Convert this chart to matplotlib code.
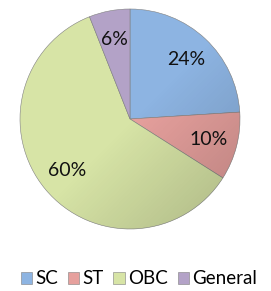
import matplotlib.pyplot as plt
import numpy as np

# pie data, clockwise from 12 o'clock
categories = ["SC", "ST", "OBC", "General"]
shares = [24, 10, 60, 6]
colors = ["#8db4e2", "#e6a09d", "#d7e4a6", "#b3a2c7"]

plt.rcParams['font.family'] = ['Lato', 'DejaVu Sans']

fig = plt.figure(figsize=(2.71, 2.91), dpi=100)
ax = fig.add_axes([20 / 271, 62 / 291, 220 / 271, 220 / 291])

wedges, texts, autotexts = ax.pie(
    shares, colors=colors, startangle=90, counterclock=False,
    autopct="%d%%", pctdistance=0.74,
    wedgeprops=dict(edgecolor="#7f7f7f", linewidth=0.4),
    textprops=dict(fontsize=14, color="#111111"))
ax.set_xlim(-1.0, 1.0)
ax.set_ylim(-1.0, 1.0)
ax.set_aspect("equal")

# soft shading like the office gradient fill
yy, xx = np.mgrid[-1:1:200j, -1:1:200j]
shade = np.zeros((200, 200, 4))
shade[..., 3] = np.clip(0.2 * (-yy[::-1] * 0.5 + 0.5 * xx), 0, 0.2)
for w in wedges:
    im = ax.imshow(shade, extent=(-1, 1, -1, 1), zorder=w.get_zorder() + 0.1)
    im.set_clip_path(w)

handles = [plt.Rectangle((0, 0), 1, 1, facecolor=c, edgecolor="#7f7f7f", linewidth=0.4)
           for c in colors]
fig.legend(handles, categories, loc="center", bbox_to_anchor=(139 / 271, 1 - 279 / 291),
           ncol=4, frameon=False, fontsize=13.5, handlelength=0.6, handleheight=0.6,
           handletextpad=0.2, columnspacing=0.5, borderaxespad=0)

fig.savefig("out.png", dpi=100)
